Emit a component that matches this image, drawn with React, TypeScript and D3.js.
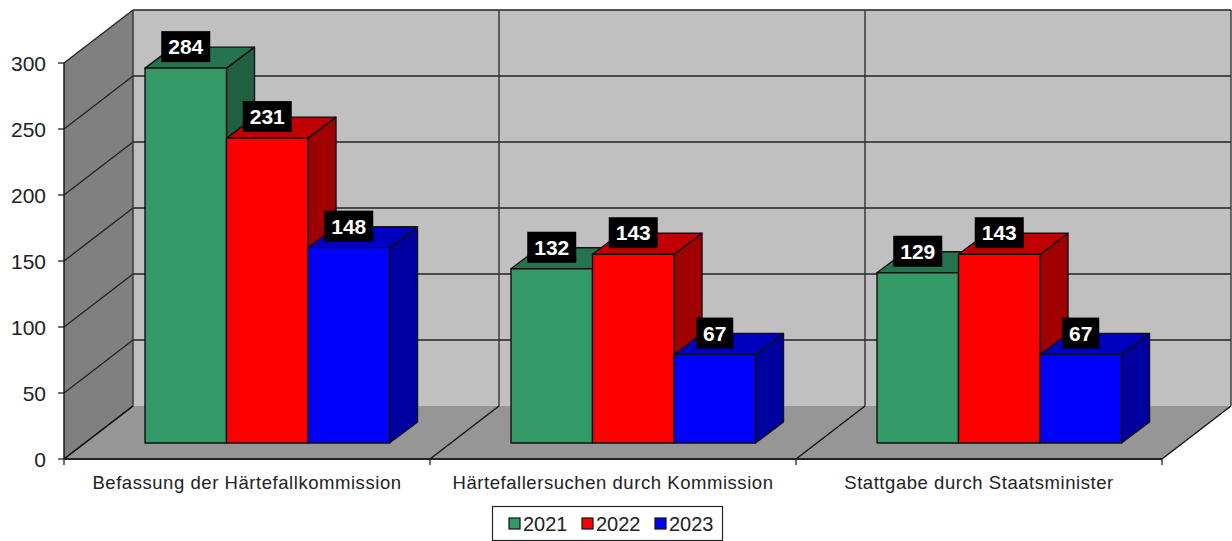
import * as d3 from "d3";

const categories = [
  "Befassung der Härtefallkommission",
  "Härtefallersuchen durch Kommission",
  "Stattgabe durch Staatsminister",
];
const years = ["2021", "2022", "2023"];
const values2021 = [284, 132, 129];
const values2022 = [231, 143, 143];
const values2023 = [148, 67, 67];
const series = [values2021, values2022, values2023];
const yTicks = [0, 50, 100, 150, 200, 250, 300];

const faceColors = ["#339966", "#ff0000", "#0000ff"];
const topColors = ["#267350", "#c00000", "#0000c0"];
const sideColors = ["#206040", "#a00000", "#0000a0"];

const width = 1232;
const height = 541;
const font = "'Liberation Sans', Arial, sans-serif";

// 3d offset of the back wall
const depthX = 69;
const depthY = -53;
// bars sit a bit behind the front edge of the floor
const barLift = 16;
const barDepthX = 28;
const barDepthY = -21;

const x0 = d3.scaleBand<string>().domain(categories).range([64, 1162]);
const y = d3.scaleLinear().domain([0, 300]).range([459, 63]);
const x1 = d3.scaleBand<string>().domain(years).range([81, 325.5]);
const legendX = d3.scaleBand<string>().domain(years).range([509, 728]);

const poly = d3.line();

export default function App() {
  const floorY = y(0);
  const left = 64;
  const right = 1162;
  const dividers = [...categories.map((c) => x0(c)!), right];

  return (
    <svg
      width={width}
      height={height}
      viewBox={`0 0 ${width} ${height}`}
      style={{ position: "absolute", left: 0, top: 0, background: "#fff" }}
    >
      {/* back wall */}
      <rect
        x={left + depthX}
        y={y(300) + depthY}
        width={right - left}
        height={floorY - y(300)}
        fill="#c0c0c0"
      />
      {/* side wall */}
      <path
        d={
          poly([
            [left, y(300)],
            [left + depthX, y(300) + depthY],
            [left + depthX, floorY + depthY],
            [left, floorY],
          ])! + "Z"
        }
        fill="#808080"
      />
      {/* floor */}
      <path
        d={
          poly([
            [left, floorY],
            [left + depthX, floorY + depthY],
            [right + depthX, floorY + depthY],
            [right, floorY],
          ])! + "Z"
        }
        fill="#969696"
      />
      {/* grid */}
      {yTicks.map((v) => (
        <g key={v} stroke="#222" strokeWidth={1.3} fill="none">
          <line x1={left} x2={left + depthX} y1={y(v)} y2={y(v) + depthY} />
          {v > 0 && (
            <line
              x1={left + depthX}
              x2={right + depthX}
              y1={y(v) + depthY}
              y2={y(v) + depthY}
              strokeWidth={1.7}
            />
          )}
          <line x1={left - 6} x2={left} y1={y(v)} y2={y(v)} />
          <text
            x={46}
            y={y(v)}
            dy="0.36em"
            textAnchor="end"
            fontFamily={font}
            fontSize={21}
            fill="#222"
            stroke="none"
          >
            {v}
          </text>
        </g>
      ))}
      {dividers.map((d) => (
        <g key={d} stroke="#333" strokeWidth={1.4}>
          <line
            x1={d + depthX}
            x2={d + depthX}
            y1={y(300) + depthY}
            y2={floorY + depthY}
          />
          <line x1={d} x2={d + depthX} y1={floorY} y2={floorY + depthY} stroke="#111" />
          <line x1={d} x2={d} y1={floorY} y2={floorY + 6} />
        </g>
      ))}
      <line x1={left} x2={right} y1={floorY} y2={floorY} stroke="#222" strokeWidth={1.8} />
      <line x1={left} x2={left} y1={y(300)} y2={floorY} stroke="#111" strokeWidth={1.4} />

      {/* bars */}
      {categories.map((c, ci) => (
        <g key={c}>
          {years.map((yr, si) => {
            const v = series[si][ci];
            const bx = x0(c)! + x1(yr)!;
            const bw = x1.bandwidth();
            const bottom = floorY - barLift;
            const top = y(v) - barLift;
            return (
              <g key={yr} stroke="#111" strokeWidth={1.4} strokeLinejoin="round">
                <path
                  d={
                    poly([
                      [bx + bw, top],
                      [bx + bw + barDepthX, top + barDepthY],
                      [bx + bw + barDepthX, bottom + barDepthY],
                      [bx + bw, bottom],
                    ])! + "Z"
                  }
                  fill={sideColors[si]}
                />
                <path
                  d={
                    poly([
                      [bx, top],
                      [bx + barDepthX, top + barDepthY],
                      [bx + bw + barDepthX, top + barDepthY],
                      [bx + bw, top],
                    ])! + "Z"
                  }
                  fill={topColors[si]}
                />
                <rect x={bx} y={top} width={bw} height={bottom - top} fill={faceColors[si]} />
              </g>
            );
          })}
        </g>
      ))}

      {/* value labels drawn last so they stay on top of the bars */}
      {categories.map((c, ci) =>
        years.map((yr, si) => {
          const v = series[si][ci];
          const cx = x0(c)! + x1(yr)! + x1.bandwidth() / 2;
          const top = y(v) - barLift;
          const w = String(v).length === 3 ? 49 : 37;
          return (
            <g key={c + yr}>
              <rect x={cx - w / 2} y={top - 37} width={w} height={31} fill="#000" />
              <text
                x={cx}
                y={top - 21.5}
                dy="0.36em"
                textAnchor="middle"
                fontFamily={font}
                fontWeight="bold"
                fontSize={21}
                fill="#fff"
              >
                {v}
              </text>
            </g>
          );
        })
      )}

      {/* category labels */}
      {categories.map((c) => (
        <text
          key={c}
          x={x0(c)! + x0.bandwidth() / 2}
          y={482}
          dy="0.36em"
          textAnchor="middle"
          fontFamily={font}
          fontSize={18.5}
          letterSpacing={0.55}
          fill="#222"
        >
          {c}
        </text>
      ))}

      {/* legend */}
      <rect x={492.5} y={506.5} width={230} height={34} fill="#fff" stroke="#222" strokeWidth={1.2} />
      {years.map((yr, i) => {
        const lx = legendX(yr)!;
        return (
          <g key={yr}>
            <rect x={lx} y={518} width={11} height={11} fill={faceColors[i]} stroke="#111" strokeWidth={1.2} />
            <text
              x={lx + 14}
              y={523.5}
              dy="0.36em"
              fontFamily={font}
              fontSize={20}
              fill="#222"
            >
              {yr}
            </text>
          </g>
        );
      })}
    </svg>
  );
}
